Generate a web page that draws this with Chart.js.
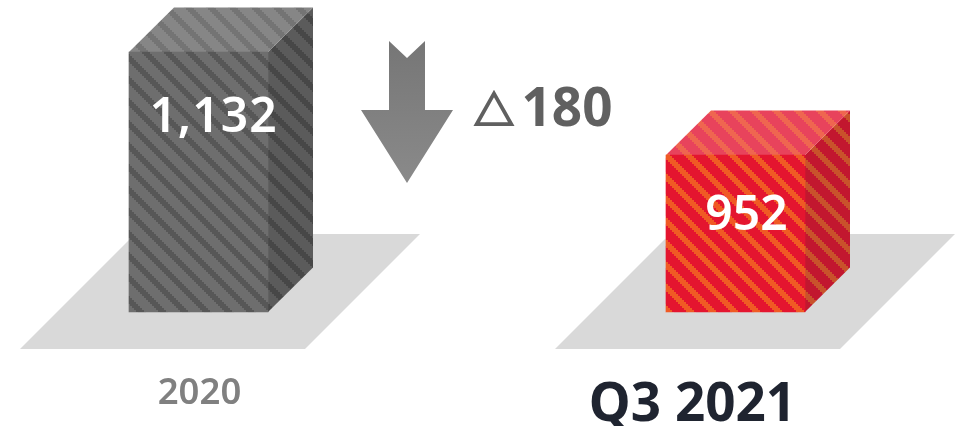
<!DOCTYPE html>
<html><head><meta charset="utf-8">
<style>html,body{margin:0;padding:0;background:#fff}canvas{display:block}</style>
<script src="https://cdn.jsdelivr.net/npm/chart.js@4"></script>
</head><body><canvas id="c" width="957" height="426"></canvas>
<script>
const categories = ["2020", "Q3 2021"];
const values = [1132, 952];
const valueLabels = ["1,132", "952"];
const deltaMark = "△";
const deltaValue = "180";
const axisFloor = 677.5;
const tickColors = ["#808080", "#1f2430"];
const tickFonts = [36.5, 53];
const tickWeights = ["600", "700"];
const faces = [
  {front:["#6e6e6e","#575757"], top:["#868686","#747474"], side:["#5b5b5b","#474747"]},
  {front:["#e4152f","#f05a24"], top:["#e8435c","#ef6650"], side:["#c2172f","#c9522b"]}
];
function tile(pair){
  const p=22, c=document.createElement('canvas');
  c.width=p;c.height=p;const g=c.getContext('2d');
  g.fillStyle=pair[0];g.fillRect(0,0,p,p);g.fillStyle=pair[1];
  for(let y=0;y<p;y+=2)for(let x=0;x<p;x+=2){
    const d=(((x-2)/2-y/2)%11+11)%11;
    if(d<4)g.fillRect(x,y,2,2);
  }
  return g.createPattern(c,'repeat');
}
const depth=45, rise=44.5;
const plugin3d={
  id:'cube3d',
  beforeDatasetsDraw(chart){
    const ctx=chart.ctx, bars=chart.getDatasetMeta(0).data;
    bars.forEach((b,i)=>{
      const x0=b.x-(i?180.5:178.5), base=b.base;
      ctx.fillStyle='#d9d9d9';ctx.beginPath();
      ctx.moveTo(x0,base+37);ctx.lineTo(x0+285,base+37);ctx.lineTo(x0+400,base-78);ctx.lineTo(x0+115,base-78);ctx.closePath();ctx.fill();
    });
    bars.forEach((b,i)=>{
      const l=b.x-b.width/2,r=b.x+b.width/2,t=b.y,bt=b.base;
      ctx.fillStyle=tile(faces[i].side);ctx.beginPath();
      ctx.moveTo(r,t);ctx.lineTo(r+depth,t-rise);ctx.lineTo(r+depth,bt-rise);ctx.lineTo(r,bt);ctx.closePath();ctx.fill();
      ctx.fillStyle=tile(faces[i].top);ctx.beginPath();
      ctx.moveTo(l,t);ctx.lineTo(l+depth,t-rise);ctx.lineTo(r+depth,t-rise);ctx.lineTo(r,t);ctx.closePath();ctx.fill();
    });
  },
  afterDatasetsDraw(chart){
    const ctx=chart.ctx, bars=chart.getDatasetMeta(0).data;
    ctx.save();ctx.textAlign='center';ctx.textBaseline='alphabetic';ctx.fillStyle='#fff';
    const ys=[131.5,230];
    bars.forEach((b,i)=>{
      ctx.font='600 48px "Noto Sans"';
      ctx.letterSpacing=i?'0px':'1px';
      ctx.fillText(valueLabels[i],b.x+(i?11:15),ys[i]);
    });
    ctx.letterSpacing='0px';
    const a=bars[0].x+208.5;
    const gr=ctx.createLinearGradient(0,41,0,183);gr.addColorStop(0,'#767676');gr.addColorStop(1,'#8a8a8a');
    ctx.fillStyle=gr;ctx.beginPath();
    ctx.moveTo(a-18,41);ctx.lineTo(a,58);ctx.lineTo(a+18,41);ctx.lineTo(a+18,110);ctx.lineTo(a+46,110);
    ctx.lineTo(a,183);ctx.lineTo(a-46,110);ctx.lineTo(a-18,110);ctx.closePath();ctx.fill();
    ctx.fillStyle='#606060';ctx.strokeStyle='#606060';ctx.lineWidth=2;ctx.textAlign='left';
    ctx.font='700 40px "Noto Sans CJK KR"';
    ctx.fillText(deltaMark,474,124.5);ctx.strokeText(deltaMark,474,124.5);
    ctx.font='700 53px "Noto Sans"';
    ctx.fillText(deltaValue,521.5,125.5);
    ctx.restore();
  }
};
const tickShift=[[1,-8],[-43,-6]];
const chart=new Chart(document.getElementById('c'),{
  type:'bar',
  data:{labels:categories,datasets:[{data:values,base:axisFloor,barThickness:139,clip:false,
    backgroundColor:faces.map(f=>tile(f.front)),borderWidth:0}]},
  options:{responsive:false,animation:false,
    layout:{padding:{left:198.5,right:221.5,top:0,bottom:0}},
    plugins:{legend:{display:false},tooltip:{enabled:false}},
    scales:{
      y:{display:false,min:axisFloor,max:1223},
      x:{offset:false,grid:{display:false},border:{display:false},
        afterFit(s){s.height=114;},
        afterUpdate(s){
          if(s._shifted)return;s._shifted=true;
          const orig=s.getLabelItems.bind(s);
          s.getLabelItems=(area)=>orig(area).map((it,i)=>({...it,options:{...it.options,
            translation:[it.options.translation[0]+tickShift[i][0],it.options.translation[1]+tickShift[i][1]]}}));
        },
        ticks:{maxRotation:0,autoSkip:false,padding:60,
          color:c=>tickColors[c.index],
          font:c=>({family:'"Noto Sans"',weight:tickWeights[c.index],size:tickFonts[c.index]})}}
    }},
  plugins:[plugin3d]
});
</script></body></html>
